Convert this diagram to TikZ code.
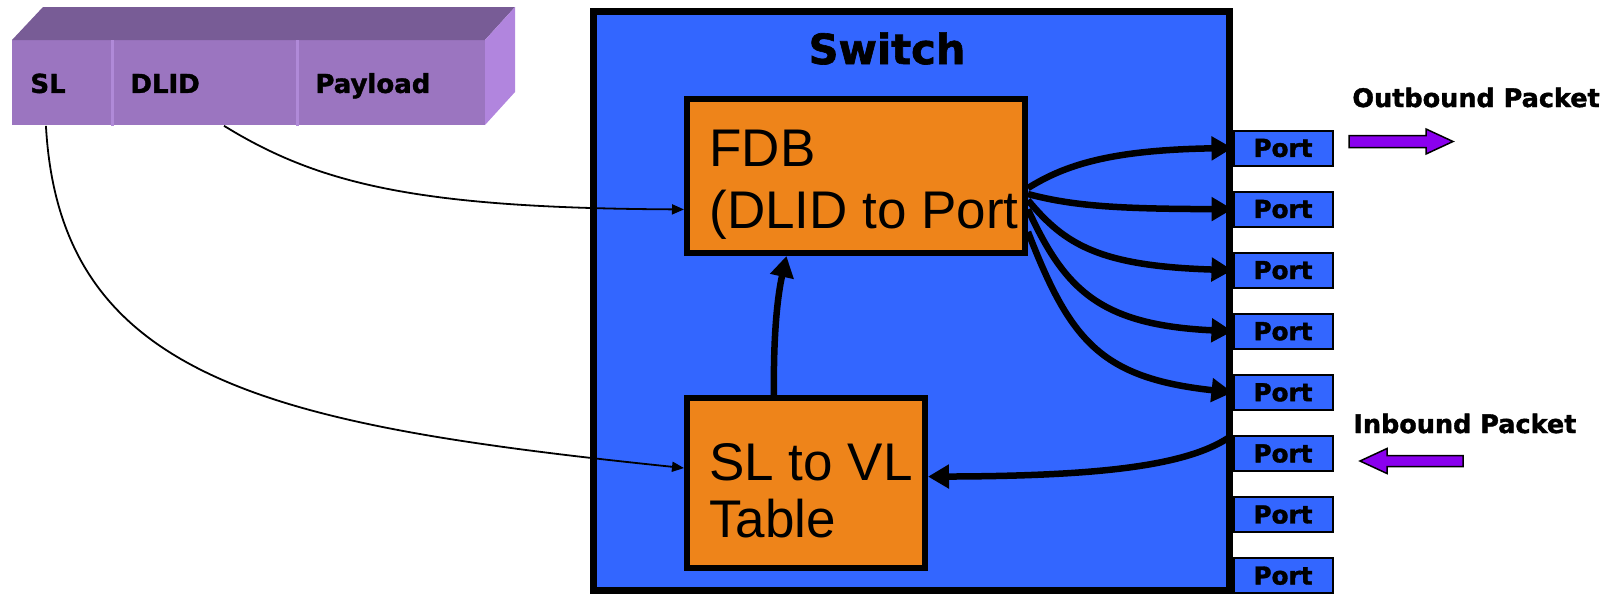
\documentclass[tikz,border=0pt]{standalone}
\usepackage{fontspec}
\setmainfont{Liberation Sans}
\newfontfamily\lblfont{DejaVu Sans}[BoldFeatures={FakeBold=1.5}]
\usetikzlibrary{arrows.meta}
\definecolor{swblue}{HTML}{3366FF}
\definecolor{fdborange}{HTML}{EE841A}
\definecolor{pktfront}{HTML}{9B75C0}
\definecolor{pkttop}{HTML}{785C96}
\definecolor{pktside}{HTML}{B185DE}
\definecolor{pktdiv}{HTML}{B08AD8}
\definecolor{arrowpurple}{RGB}{138,0,238}
\begin{document}
\begin{tikzpicture}[x=0.5pt,y=-0.5pt,
  obox/.style={draw=black, fill=fdborange, line width=3pt, inner sep=0pt},
  port/.style={draw=black, fill=swblue, line width=1pt, minimum width=49.5pt,
    minimum height=17.5pt, inner sep=0pt, font=\lblfont\bfseries\fontsize{12.35}{14}\selectfont},
  bigtxt/.style={anchor=base west, inner sep=0pt, font=\fontsize{26.5}{30}\selectfont},
  boldtxt/.style={anchor=base west, inner sep=0pt, font=\lblfont\bfseries\fontsize{12.75}{15}\selectfont},
  cell/.style={anchor=north west, inner xsep=9pt, inner ysep=0pt, minimum height=42.5pt,
    align=left, text height=10pt, text depth=0pt, font=\lblfont\bfseries\fontsize{13}{15}\selectfont},
  thickarrow/.style={line width=3.25pt, -{Triangle[length=10.5pt,width=11.5pt]}},
  thinarrow/.style={line width=0.9pt, -{Triangle[length=6pt,width=5pt]}},
  bigarrow/.style={draw=black, line width=0.75pt, fill=arrowpurple, line join=miter},
  divider/.style={draw=pktdiv, line width=1.5pt}
]
\useasboundingbox (0,0) rectangle (1612,595);

% packet
\fill[pktfront] (12,40) rectangle (485,125);
\fill[pkttop] (12,40) -- (43,7) -- (515,7) -- (485,40) -- cycle;
\fill[pktside] (485,40) -- (515,7) -- (515,92) -- (485,125) -- cycle;
\node[cell, minimum width=50pt, text width=32pt] (fsl) at (12,40) {SL};
\node[cell, minimum width=92.5pt, text width=74.5pt] (fdlid) at (112,40) {DLID};
\node[cell, minimum width=94pt, text width=76pt] (fpay) at (297,40) {Payload};
\draw[divider] (fsl.north east) -- (fsl.south east);
\draw[divider] (fdlid.north east) -- (fdlid.south east);

% switch
\node[draw=black, fill=swblue, line width=3.5pt, minimum width=318pt,
  minimum height=289.5pt, inner sep=0pt] (switch) at (911.5,301) {};
\node[anchor=base, inner sep=0pt, font=\lblfont\bfseries\fontsize{20.8}{24}\selectfont]
  (swtitle) at (887,64) {Switch};

\node[obox, minimum width=169pt, minimum height=77pt] (fdb) at (856,176) {};
\node[bigtxt] (fdbt1) at (709,166) {FDB};
\node[bigtxt] (fdbt2) at (709,228) {(DLID to Port};

\node[obox, minimum width=119pt, minimum height=85pt] (slvl) at (806,483) {};
\node[bigtxt] (slvlt1) at (709,480) {SL to VL};
\node[bigtxt] (slvlt2) at (709,537) {Table};

% ports
\foreach \i in {1,...,8} {
  \node[port] (p\i) at (1283,{148+61.1*(\i-1)}) {Port};
}

% labels and purple arrows
\node[boldtxt] (outlbl) at (1352,107) {Outbound Packet};
\node[boldtxt] (inlbl) at (1353,433) {Inbound Packet};
\draw[bigarrow] (1349,135.5) -- (1426,135.5) -- (1426,129) -- (1453,141.5) -- (1426,154)
  -- (1426,147.5) -- (1349,147.5) -- cycle;
\draw[bigarrow] (1463,455.5) -- (1387,455.5) -- (1387,448.5) -- (1360,461) -- (1387,473.5)
  -- (1387,466.5) -- (1463,466.5) -- cycle;

% thin connectors
\draw[thinarrow] (fdlid.294.7) .. controls (320,185) and (420,208) .. (fdb.191.5);
\draw[thinarrow] (fsl.249.4) .. controls (60,380) and (270,425) .. (slvl.173);

% thick connectors
\draw[thickarrow] (fdb.356) .. controls (1065,165) and (1110,150) .. (p1.west);
\draw[thickarrow] (fdb.354.7) .. controls (1070,205) and (1110,209) .. (p2.west);
\draw[thickarrow] (fdb.352) .. controls (1065,245) and (1100,266) .. (p3.west);
\draw[thickarrow] (fdb.349.5) .. controls (1065,290) and (1100,325) .. (p4.west);
\draw[thickarrow] (fdb.342.6) .. controls (1070,340) and (1100,378) .. (p5.west);
\draw[thickarrow] (slvl.110.6) .. controls (773,320) and (780,285) .. (fdb.229.2);
\draw[thickarrow] (p6.north west) .. controls (1190,466) and (1100,476) .. (slvl.3);
\end{tikzpicture}
\end{document}
